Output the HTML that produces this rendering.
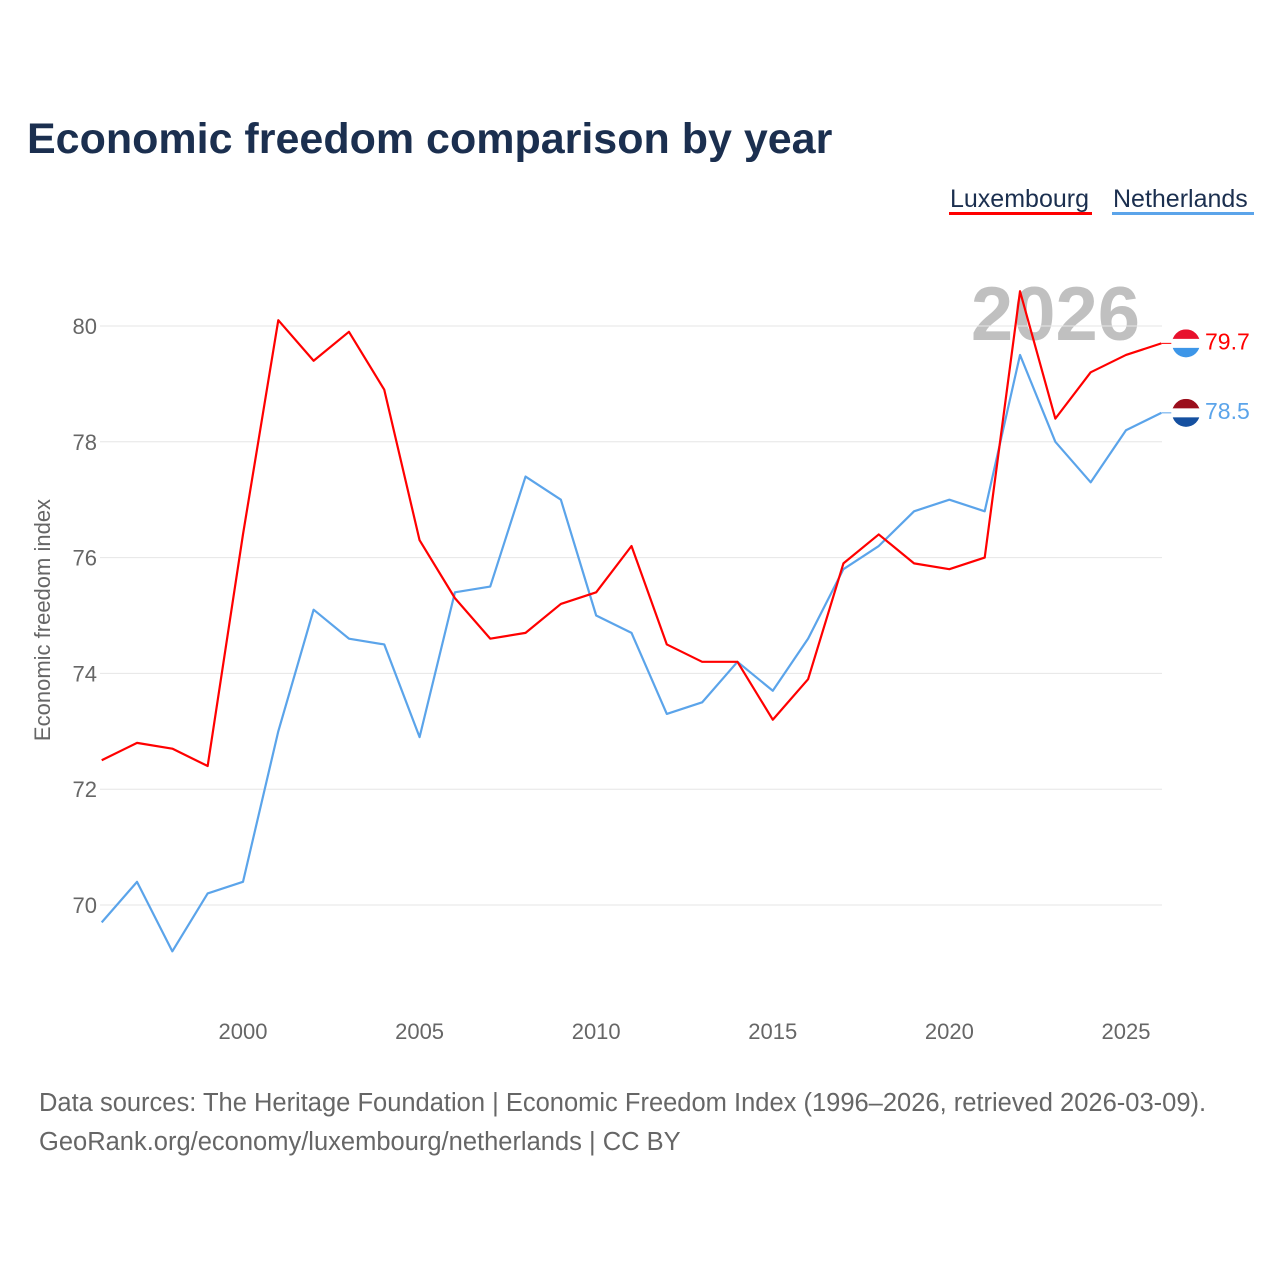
<!DOCTYPE html>
<html><head><meta charset="utf-8">
<style>
html,body{margin:0;padding:0;background:#fff;}
body{width:1280px;height:1280px;position:relative;font-family:"Liberation Sans",sans-serif;overflow:hidden;}
</style></head>
<body>
<svg width="1280" height="1280" viewBox="0 0 1280 1280">
<text x="27" y="153" font-size="43" font-weight="bold" fill="#1b2f4f">Economic freedom comparison by year</text>
<g>
<text x="950" y="207" font-size="25" fill="#1b2f4f">Luxembourg</text>
<rect x="949" y="212" width="143" height="3" fill="#ff0000"/>
<text x="1113" y="207" font-size="25" fill="#1b2f4f">Netherlands</text>
<rect x="1112" y="212" width="142" height="3" fill="#5ba4ea"/>
</g>
<text x="1140" y="340" font-size="76" font-weight="bold" fill="#c0c0c0" text-anchor="end">2026</text>
<g id="grid"></g>
<g id="yt"></g>
<g id="xt"></g>
<text transform="translate(50,620) rotate(-90)" font-size="22" fill="#666" text-anchor="middle">Economic freedom index</text>
<g id="series"></g>
<text x="39" y="1111" font-size="25.5" fill="#666">Data sources: The Heritage Foundation | Economic Freedom Index (1996–2026, retrieved 2026-03-09).</text>
<text x="39" y="1150" font-size="25.5" fill="#666">GeoRank.org/economy/luxembourg/netherlands | CC BY</text>
</svg>
<script>
const years=[1996,1997,1998,1999,2000,2001,2002,2003,2004,2005,2006,2007,2008,2009,2010,2011,2012,2013,2014,2015,2016,2017,2018,2019,2020,2021,2022,2023,2024,2025,2026];
const luxembourg=[72.5,72.8,72.7,72.4,76.4,80.1,79.4,79.9,78.9,76.3,75.3,74.6,74.7,75.2,75.4,76.2,74.5,74.2,74.2,73.2,73.9,75.9,76.4,75.9,75.8,76.0,80.6,78.4,79.2,79.5,79.7];
const netherlands=[69.7,70.4,69.2,70.2,70.4,73.0,75.1,74.6,74.5,72.9,75.4,75.5,77.4,77.0,75.0,74.7,73.3,73.5,74.2,73.7,74.6,75.8,76.2,76.8,77.0,76.8,79.5,78.0,77.3,78.2,78.5];
const yTicks=[70,72,74,76,78,80];
const xTicks=[2000,2005,2010,2015,2020,2025];
const NS="http://www.w3.org/2000/svg";
function X(y){return 101.7+(y-1996)*35.32;}
function Y(v){return 326+(80-v)*57.9;}
function mk(t,a,p){const e=document.createElementNS(NS,t);for(const k in a)e.setAttribute(k,a[k]);p.appendChild(e);return e;}
const grid=document.getElementById('grid'),yt=document.getElementById('yt'),xt=document.getElementById('xt'),ser=document.getElementById('series');
yTicks.forEach(v=>{
 const l=mk('line',{x1:100,x2:1162,y1:Y(v),y2:Y(v),stroke:'#e6e6e6','stroke-width':1},grid);
 
 
 const t=mk('text',{x:97,y:Y(v)+8,'font-size':22,fill:'#666','text-anchor':'end'},yt);t.textContent=v;
 
 
});
xTicks.forEach(v=>{
 const t=mk('text',{x:X(v),y:1039,'font-size':22,fill:'#666','text-anchor':'middle'},xt);t.textContent=v;
 
 
});
function draw(vals,color,name,flagTop,flagMid,flagBot){
 const pts=vals.map((v,i)=>X(years[i])+','+Y(v)).join(' ');
 const p=mk('polyline',{points:pts,fill:'none',stroke:color,'stroke-width':2.2,'stroke-linejoin':'round'},ser);
 
 
 const last=vals[vals.length-1],ly=Y(last),lx=X(years[years.length-1]);
 const c=mk('line',{x1:lx,x2:lx+10,y1:ly,y2:ly,stroke:color,'stroke-width':1},ser);
 
 
 const g=mk('g',{},ser);
 
 
 const id='clip'+name;const cp=mk('clipPath',{id:id},g);mk('circle',{cx:1186,cy:ly,r:14},cp);
 const gg=mk('g',{'clip-path':'url(#'+id+')'},g);
 mk('rect',{x:1172,y:ly-14,width:28,height:10,fill:flagTop},gg);
 mk('rect',{x:1172,y:ly-4.5,width:28,height:9,fill:flagMid},gg);
 mk('rect',{x:1172,y:ly+4.5,width:28,height:10,fill:flagBot},gg);
 const t=mk('text',{x:1205,y:ly+6,'font-size':23,fill:color},ser);t.textContent=last.toFixed(1);
 
 
}
draw(netherlands,'#5ba4ea','netherlands','#9b0e1c','#ffffff','#1550a0');
draw(luxembourg,'#ff0000','luxembourg','#e8112d','#ffffff','#3d96e8');
</script>
</body></html>
